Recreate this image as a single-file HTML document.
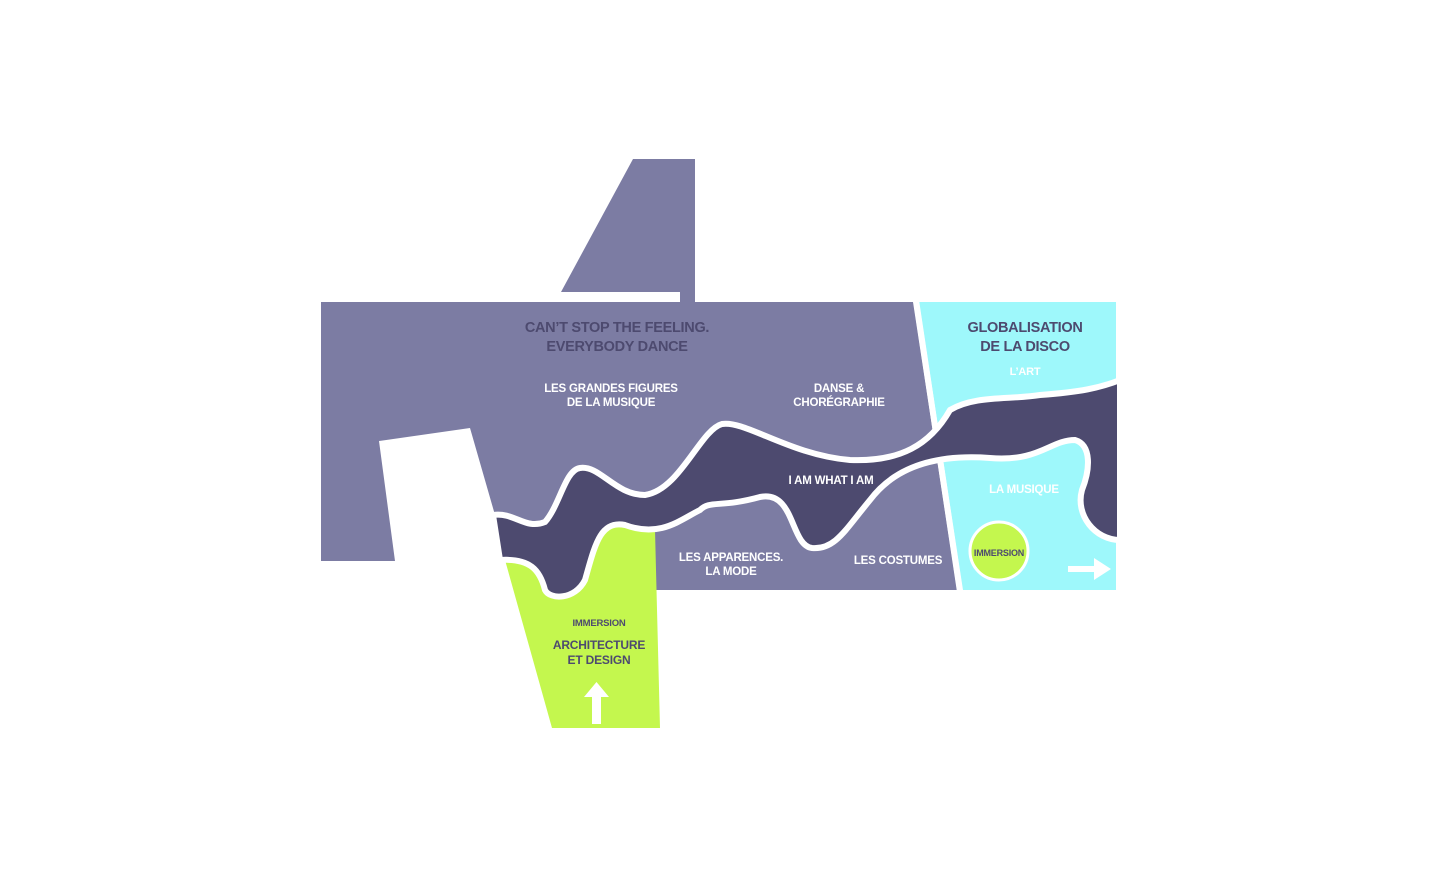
<!DOCTYPE html>
<html><head><meta charset="utf-8"><style>
html,body{margin:0;padding:0;background:#fff;}
svg{display:block;}
text{font-family:"Liberation Sans",sans-serif;font-weight:bold;text-anchor:middle;}
</style></head><body>
<svg width="1440" height="884" viewBox="0 0 1440 884" xmlns="http://www.w3.org/2000/svg">
<polygon fill="#7c7ca3" points="321,302 680,302 680,292 561,292 633,159 695,159 695,302 913,302 957,590 655,590 650,540 495,515 470,428 379,441 395,561 321,561"/>
<polygon fill="#9ef8fb" points="919,302 1116,302 1116,590 963,590"/>
<polygon fill="#fff" points="913,300 919,300 963,592 957,592"/>
<path fill="#c4f74e" d="M505,560 C530,560 540,575 545,595 L580,590 C590,560 600,530 615,525 L655,530 L660,728 L552,728 Z"/>
<path fill="#4d4a6f" stroke="#fff" stroke-width="6" d="M493,515 C515,512 525,530 545,522 C560,505 565,470 580,468 C600,465 615,495 645,495 C680,490 700,430 722,424 C745,420 790,455 850,460 C900,462 930,445 950,410 C975,395 1010,400 1040,395 C1080,392 1100,388 1120,380 L1120,540 C1095,540 1075,515 1082,490 C1090,470 1092,445 1075,440 C1050,440 1040,462 990,458 C950,455 900,460 870,500 C845,530 835,550 812,548 C790,545 795,490 760,497 C720,508 710,500 700,510 C680,520 660,538 625,525 C600,520 595,545 585,580 C575,600 550,600 545,590 C540,570 530,558 500,560 Z"/>
<circle cx="999" cy="551" r="29" fill="#c4f74e" stroke="#fff" stroke-width="3"/>
<polygon fill="#fff" points="592,724 601,724 601,697 609,697 596.5,682 584,697 592,697"/>
<polygon fill="#fff" points="1068,566 1094,566 1094,558 1111,569 1094,580 1094,572 1068,572"/>
<g fill="#4d4a6f" font-size="14.5" textLength="">
<text x="617" y="332" letter-spacing="-0.3">CAN’T STOP THE FEELING.</text>
<text x="617" y="351" letter-spacing="-0.3">EVERYBODY DANCE</text>
<text x="1025" y="332" letter-spacing="-0.3">GLOBALISATION</text>
<text x="1025" y="351" letter-spacing="-0.3">DE LA DISCO</text>
</g>
<g fill="#fff" font-size="11.5" letter-spacing="-0.2">
<text x="611" y="392">LES GRANDES FIGURES</text>
<text x="611" y="406">DE LA MUSIQUE</text>
<text x="839" y="392">DANSE &amp;</text>
<text x="839" y="406">CHORÉGRAPHIE</text>
<text x="831" y="484">I AM WHAT I AM</text>
<text x="731" y="561">LES APPARENCES.</text>
<text x="731" y="575">LA MODE</text>
<text x="898" y="564">LES COSTUMES</text>
<text x="1025" y="375" font-size="11">L’ART</text>
<text x="1024" y="493">LA MUSIQUE</text>
</g>
<g fill="#4d4a6f" letter-spacing="-0.2">
<text x="599" y="626" font-size="9.5">IMMERSION</text>
<text x="599" y="649" font-size="12">ARCHITECTURE</text>
<text x="599" y="664" font-size="12">ET DESIGN</text>
<text x="999" y="556" font-size="9">IMMERSION</text>
</g>
</svg>
</body></html>
